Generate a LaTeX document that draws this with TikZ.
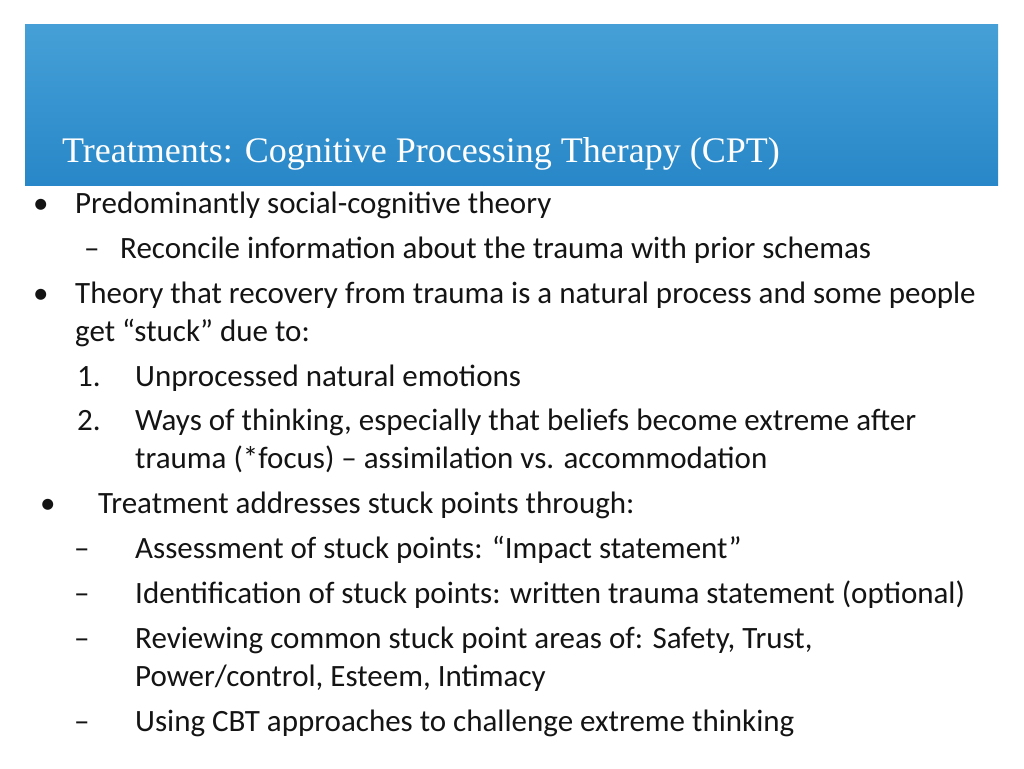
\documentclass[tikz,border=0pt]{standalone}
\usepackage{fontspec}
\setmainfont{Carlito}
\newfontfamily\titlefont{Liberation Serif}
\definecolor{bannerColor}{RGB}{70,160,215}
\definecolor{bannerDark}{RGB}{40,135,200}
\definecolor{textColor}{RGB}{20,20,20}
\begin{document}
\begin{tikzpicture}[x=1pt,y=-1pt,textColor]
  \tikzstyle{line} = [anchor=base west,inner sep=0pt,font=\fontsize{31}{36}\selectfont]
  \tikzstyle{bulletmark} = [line]
  \useasboundingbox (0,0) rectangle (1024,768);
  \fill[white] (0,0) rectangle (1024,768);
  \shade[top color=bannerColor,bottom color=bannerDark] (25,25) rectangle (998,185);
  \node[anchor=base west,inner sep=0pt,white,font=\titlefont\fontsize{36}{40}\selectfont] (title) at (62,162) {Treatments: Cognitive Processing Therapy (CPT)};

  \node[bulletmark] (b1) at (33,213) {•};
  \node[line] (l1) at (75,213) {Predominantly social-cognitive theory};
  \node[bulletmark] (d1) at (84,258) {–};
  \node[line] (l2) at (120,258) {Reconcile information about the trauma with prior schemas};
  \node[bulletmark] (b2) at (33,303) {•};
  \node[line] (l3) at (75,303) {Theory that recovery from trauma is a natural process and some people};
  \node[line] (l4) at (75,341) {get “stuck” due to:};
  \node[bulletmark] (n1) at (77,386) {1.};
  \node[line] (l5) at (135,386) {Unprocessed natural emotions};
  \node[bulletmark] (n2) at (77,430) {2.};
  \node[line] (l6) at (135,430) {Ways of thinking, especially that beliefs become extreme after};
  \node[line] (l7) at (135,468) {trauma (*focus) – assimilation vs. accommodation};
  \node[bulletmark] (b3) at (40,513) {•};
  \node[line] (l8) at (98,513) {Treatment addresses stuck points through:};
  \node[bulletmark] (d2) at (74,558) {–};
  \node[line] (l9) at (135,558) {Assessment of stuck points: “Impact statement”};
  \node[bulletmark] (d3) at (74,603) {–};
  \node[line] (l10) at (135,603) {Identification of stuck points: written trauma statement (optional)};
  \node[bulletmark] (d4) at (74,648) {–};
  \node[line] (l11) at (135,648) {Reviewing common stuck point areas of: Safety, Trust,};
  \node[line] (l12) at (135,686) {Power/control, Esteem, Intimacy};
  \node[bulletmark] (d5) at (74,731) {–};
  \node[line] (l13) at (135,731) {Using CBT approaches to challenge extreme thinking};
\end{tikzpicture}
\end{document}
